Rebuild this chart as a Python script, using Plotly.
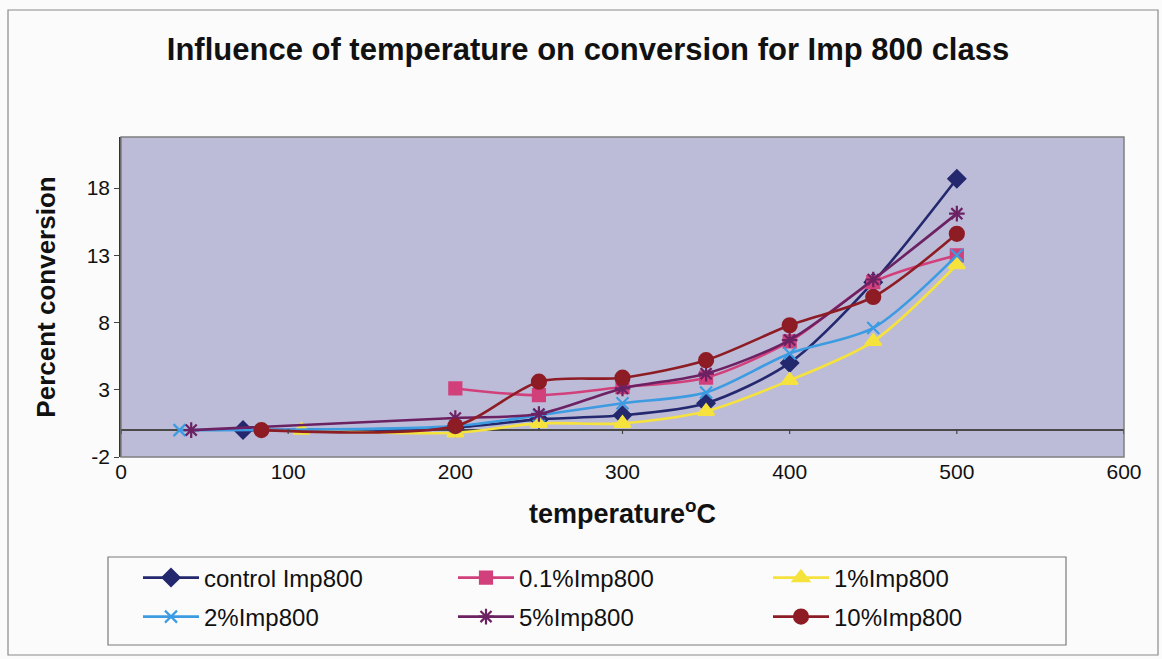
import plotly.graph_objects as go

# Temperatures (degrees C) and percent conversion for each Imp 800 loading
temp_control = [73, 200, 250, 300, 350, 400, 450, 500]
conv_control = [0.0, 0.2, 0.8, 1.1, 2.0, 5.0, 11.0, 18.7]

temp_01 = [200, 250, 300, 350, 400, 450, 500]
conv_01 = [3.1, 2.6, 3.2, 3.9, 6.6, 11.0, 13.0]

temp_1 = [108, 200, 250, 300, 350, 400, 450, 500]
conv_1 = [0.0, -0.2, 0.5, 0.5, 1.4, 3.7, 6.6, 12.3]

temp_2 = [35, 200, 250, 300, 350, 400, 450, 500]
conv_2 = [0.0, 0.3, 1.1, 2.0, 2.8, 5.7, 7.6, 13.0]

temp_5 = [42, 200, 250, 300, 350, 400, 450, 500]
conv_5 = [0.0, 0.9, 1.2, 3.1, 4.2, 6.7, 11.2, 16.1]

temp_10 = [84, 200, 250, 300, 350, 400, 450, 500]
conv_10 = [0.0, 0.3, 3.6, 3.9, 5.2, 7.8, 9.9, 14.6]

series_names = ["control Imp800", "0.1%Imp800", "1%Imp800",
                "2%Imp800", "5%Imp800", "10%Imp800"]
x_ticks = [0, 100, 200, 300, 400, 500, 600]
y_ticks = [-2, 3, 8, 13, 18]

series = [
    (temp_control, conv_control, "#24286e", "diamond", 13, "legend"),
    (temp_01, conv_01, "#d2407c", "square", 12, "legend"),
    (temp_1, conv_1, "#f6e23c", "triangle-up", 14, "legend"),
    (temp_2, conv_2, "#3d9be2", "x-thin", 12, "legend2"),
    (temp_5, conv_5, "#6c2163", "asterisk", 13, "legend2"),
    (temp_10, conv_10, "#8e1c24", "circle", 14, "legend2"),
]

fig = go.Figure()
for (xs, ys, color, symbol, size, leg), name in zip(series, series_names):
    fig.add_trace(go.Scatter(
        x=xs, y=ys, name=name, mode="lines+markers",
        line=dict(color=color, width=2.6, shape="spline", smoothing=0.8),
        marker=dict(symbol=symbol, size=size, color=color,
                    line=dict(color=color, width=2.2)),
        legend=leg,
    ))

# pixel geometry of the plot area
L, R, T, B = 121, 1124, 137, 457
W, H = 1162, 659
pw, ph = R - L, B - T


def px(xp):
    return (xp - L) / pw


def py(yp):
    return (B - yp) / ph


shapes = [
    # outer chart frame
    dict(type="rect", xref="paper", yref="paper",
         x0=px(8), x1=px(1158), y0=py(655), y1=py(10),
         line=dict(color="#8a8a8a", width=1.2), layer="below"),
    # plot area frame
    dict(type="rect", xref="paper", yref="paper", x0=0, x1=1, y0=0, y1=1,
         line=dict(color="#7f7f7f", width=1.5)),
    # legend box
    dict(type="rect", xref="paper", yref="paper",
         x0=px(108), x1=px(1066), y0=py(645), y1=py(557),
         line=dict(color="#7a7a7a", width=1.2)),
]
# category-axis tick marks sit on the y = 0 crossing line
for t in x_ticks:
    shapes.append(dict(type="line", xref="x", yref="paper",
                       x0=t, x1=t, y0=py(429), y1=py(434),
                       line=dict(color="#444444", width=1.2)))

font_main = "Liberation Sans, Arial, sans-serif"

legend_common = dict(orientation="h", xref="container", yref="container",
                     xanchor="left", yanchor="middle",
                     bgcolor="rgba(0,0,0,0)", borderwidth=0,
                     entrywidth=244, entrywidthmode="pixels", itemwidth=56,
                     font=dict(size=24))

fig.update_layout(
    width=W, height=H,
    margin=dict(l=L, r=W - R, t=T, b=H - B, autoexpand=False),
    paper_bgcolor="#fbfbfb",
    plot_bgcolor="#bdbcd8",
    font=dict(family=font_main, color="#111111", size=21),
    title=dict(text="<b>Influence of temperature on conversion for Imp 800 class</b>",
               x=588 / W, xref="container", xanchor="center",
               y=1 - 49 / H, yref="container", yanchor="middle",
               font=dict(size=31, family=font_main)),
    xaxis=dict(range=[0, 600], tickvals=x_ticks, ticks="", showgrid=False,
               zeroline=False, showline=False, tickfont=dict(size=21),
               title=dict(text="<b>temperature<sup>o</sup>C</b>",
                          font=dict(size=27), standoff=22)),
    yaxis=dict(range=[-2, 21.8], tickvals=y_ticks,
               ticktext=[str(v) for v in y_ticks],
               ticks="outside", ticklen=5,
               tickcolor="#444444", showgrid=False, showline=True,
               linecolor="#333333", linewidth=1.5,
               zeroline=True, zerolinecolor="#4a4a4a", zerolinewidth=1.5,
               tickfont=dict(size=21),
               title=dict(text="<b>Percent conversion</b>",
                          font=dict(size=26), standoff=24)),
    legend=dict(x=138 / W, y=1 - 578 / H, **legend_common),
    legend2=dict(x=138 / W, y=1 - 617 / H, **legend_common),
    shapes=shapes,
    showlegend=True,
)

fig.write_html("out.html")
